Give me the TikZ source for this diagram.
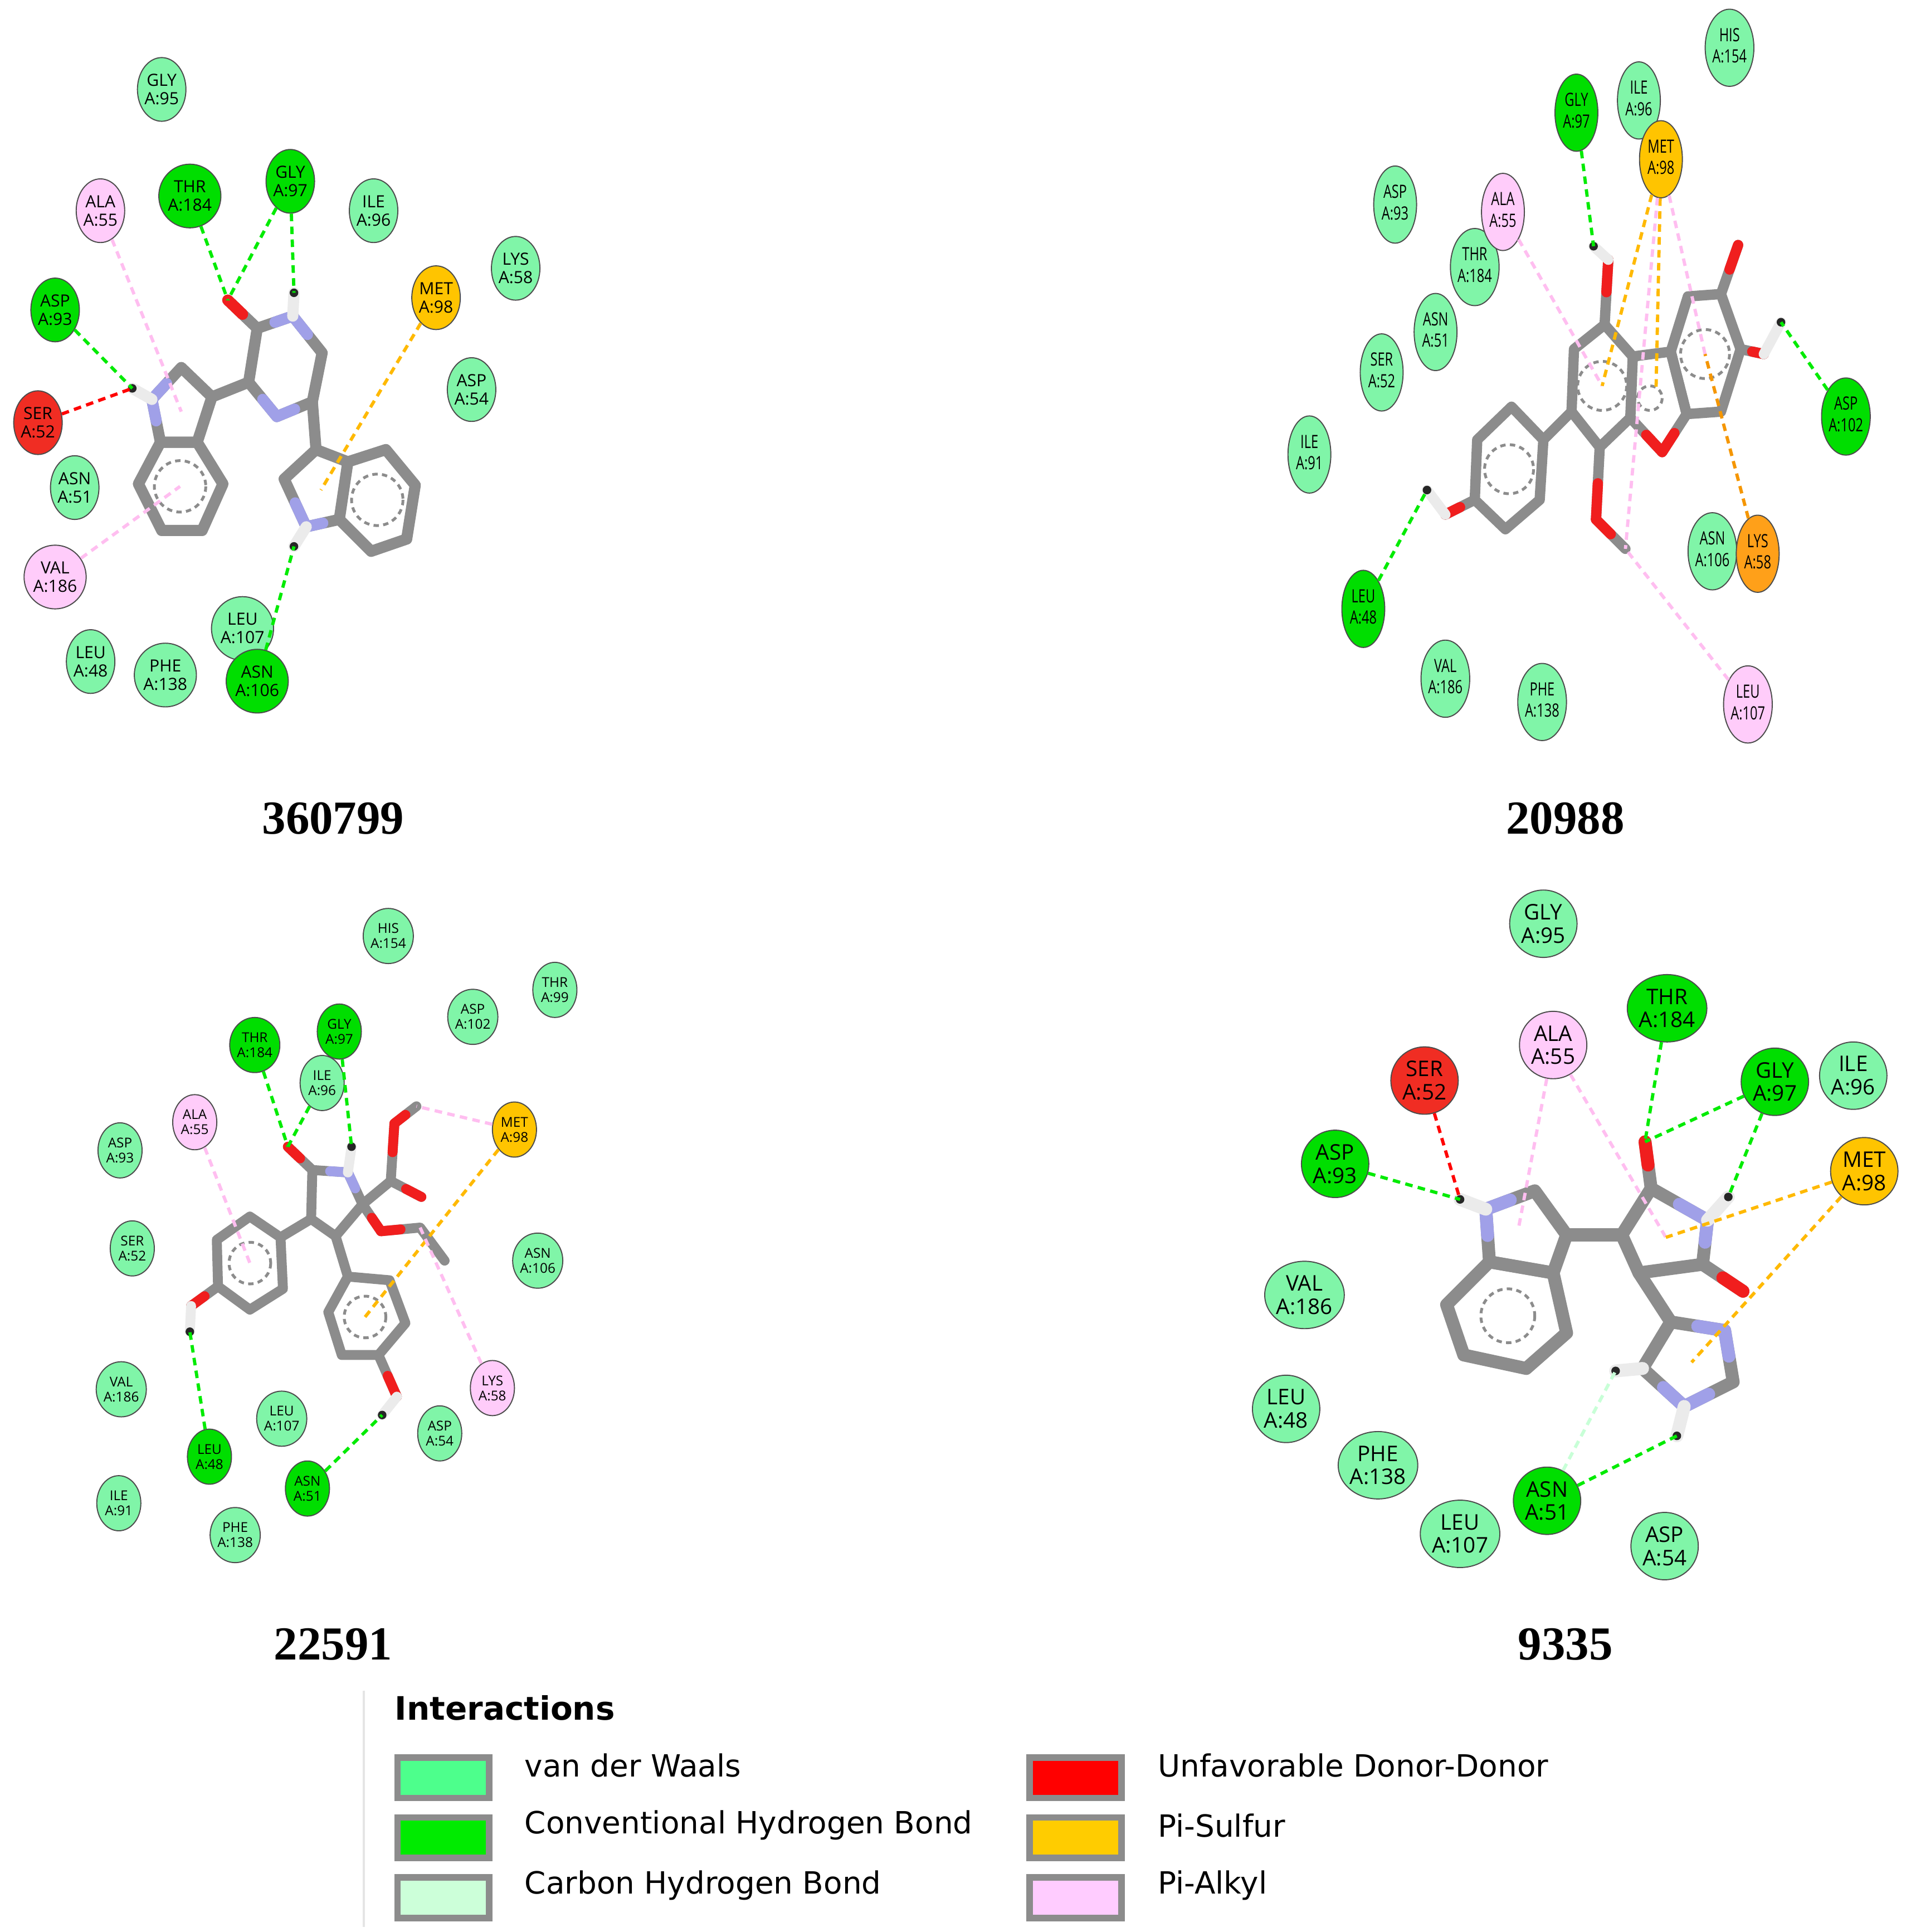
\documentclass[tikz,border=0pt]{standalone}
\usepackage{fontspec}
\setmainfont{Open Sans}
\newfontfamily\legfont{DejaVu Sans}
\newfontfamily\titfont{Liberation Serif}
\usetikzlibrary{shapes.geometric,calc}
\definecolor{vdw}{RGB}{128,245,168}
\definecolor{hbg}{RGB}{0,222,0}
\definecolor{unf}{RGB}{240,45,35}
\definecolor{psul}{RGB}{255,196,0}
\definecolor{lysor}{RGB}{255,160,25}
\definecolor{palk}{RGB}{255,204,250}
\definecolor{bondgray}{RGB}{140,140,140}
\definecolor{nblue}{RGB}{160,160,232}
\definecolor{ored}{RGB}{240,30,30}
\definecolor{hwhite}{RGB}{235,235,235}
\definecolor{lhb}{RGB}{0,235,0}
\definecolor{lpink}{RGB}{255,190,240}
\definecolor{lor}{RGB}{255,185,0}
\definecolor{lor2}{RGB}{245,150,0}
\definecolor{lchb}{RGB}{200,255,215}
\definecolor{lgvdw}{RGB}{77,255,140}
\definecolor{lgchb}{RGB}{204,255,217}
\definecolor{lgpalk}{RGB}{255,204,255}
\definecolor{lgpsul}{RGB}{255,204,0}
\newcommand\twol[2]{\begin{tabular}{@{}c@{}}#1\\#2\end{tabular}}
\newcommand\rr[6]{\node[#1,fill=#2] (#3) at (#4) {#5\\A:#6};}
\newcommand\rrn[6]{\node[#1,fill=#2] (#3) at (#4) {\scalebox{0.72}[1]{\twol{#5}{A:#6}}};}
\newcommand\het[3]{\draw[bond,draw=#3] (#1) -- ($(#1)!0.5!(#2)$);}
\newcommand\hyd[2]{\draw[bond,draw=hwhite] (#1) -- (#2); \fill[black!85] (#2) circle (3.5);}
\tikzset{
  x=0.02cm,y=-0.02cm,
  res/.style={ellipse,draw=black!70,line width=0.5pt,inner sep=0pt,align=center,text=black},
  r1/.style={res,minimum width=0.78cm,minimum height=1.04cm,font=\fontsize{7.8}{8.6}\selectfont},
  r2/.style={res,minimum width=0.70cm,minimum height=1.26cm,font=\fontsize{8.5}{10}\selectfont},
  r3/.style={res,minimum width=0.72cm,minimum height=0.90cm,font=\fontsize{6.3}{7}\selectfont},
  r4/.style={res,minimum width=1.10cm,minimum height=1.10cm,font=\fontsize{10}{10.8}\selectfont},
  bond/.style={draw=bondgray,line width=5pt,line cap=round,line join=round},
  arom/.style={draw=bondgray,line width=1.3pt,dash pattern=on 2.5pt off 2pt},
  inter/.style={line width=1.5pt,dash pattern=on 3.5pt off 2.5pt},
  hb/.style={inter,draw=lhb},
  pk/.style={inter,draw=lpink},
  ps/.style={inter,draw=lor},
  ps2/.style={inter,draw=lor2},
  ud/.style={inter,draw=red},
  ch/.style={inter,draw=lchb},
  tit/.style={font=\titfont\bfseries\fontsize{22}{24}\selectfont},
  lbox/.style={draw=gray!90,line width=3pt,minimum width=1.5cm,minimum height=0.66cm,inner sep=0pt},
  ltxt/.style={anchor=west,font=\legfont\fontsize{14.2}{16}\selectfont,inner sep=0pt}
}
\begin{document}
\begin{tikzpicture}
\useasboundingbox[fill=white] (0,0) rectangle (1560,1577);

% ================= Panel 1 =================
\begin{scope}[bond/.append style={line width=5.2pt}]
\coordinate (An1) at (124,326); \coordinate (Ah1) at (108,317);
\coordinate (Ac2) at (148,300); \coordinate (Ac3) at (173,324);
\coordinate (Ac3a) at (161,361); \coordinate (Ac7a) at (131,361);
\coordinate (Ab4) at (182,395); \coordinate (Ab5) at (165,433);
\coordinate (Ab6) at (132,433); \coordinate (Ab7) at (113,395);
\coordinate (Am1) at (203,312); \coordinate (Am2) at (210,268);
\coordinate (Amn1) at (239,258); \coordinate (Am3) at (263,288);
\coordinate (Am4) at (255,328); \coordinate (Amn2) at (226,340);
\coordinate (Ao) at (186,245); \coordinate (Amh) at (240,239);
\coordinate (Ar3) at (258,367); \coordinate (Ar2) at (232,391);
\coordinate (Arn) at (250,430); \coordinate (Ar7a) at (277,424);
\coordinate (Ar3a) at (284,377); \coordinate (Arh) at (240,446);
\coordinate (Arb4) at (315,367); \coordinate (Arb5) at (339,396);
\coordinate (Arb6) at (332,440); \coordinate (Arb7) at (303,450);
\coordinate (Apyr) at (148,336); \coordinate (Abz) at (147,397);
\coordinate (Arpyr) at (262,400); \coordinate (Arbz) at (308,408);
\draw[bond] (An1)--(Ac2)--(Ac3)--(Ac3a)--(Ac7a)--cycle;
\draw[bond] (Ac7a)--(Ac3a)--(Ab4)--(Ab5)--(Ab6)--(Ab7)--cycle;
\draw[bond] (Ac3)--(Am1);
\draw[bond] (Am1)--(Am2)--(Amn1)--(Am3)--(Am4)--(Amn2)--cycle;
\draw[bond] (Am2)--(Ao);
\draw[bond] (Am4)--(Ar3);
\draw[bond] (Ar3)--(Ar2)--(Arn)--(Ar7a)--(Ar3a)--cycle;
\draw[bond] (Ar3a)--(Arb4)--(Arb5)--(Arb6)--(Arb7)--(Ar7a);
\het{An1}{Ac2}{nblue}\het{An1}{Ac7a}{nblue}
\het{Amn1}{Am2}{nblue}\het{Amn1}{Am3}{nblue}
\het{Amn2}{Am4}{nblue}\het{Amn2}{Am1}{nblue}
\het{Arn}{Ar2}{nblue}\het{Arn}{Ar7a}{nblue}
\het{Ao}{Am2}{ored}
\hyd{An1}{Ah1}\hyd{Amn1}{Amh}\hyd{Arn}{Arh}
\draw[arom] (Abz) circle (21);
\draw[arom] (Arbz) circle (21);
\end{scope}
\rr{r1}{vdw}{A95}{132,73}{GLY}{95}
\rr{r1}{hbg}{A184}{155,160}{THR}{184}
\rr{r1}{hbg}{A97}{237,148}{GLY}{97}
\rr{r1}{vdw}{A96}{305,172}{ILE}{96}
\rr{r1}{palk}{A55}{82,172}{ALA}{55}
\rr{r1}{vdw}{A58}{421,219}{LYS}{58}
\rr{r1}{psul}{A98}{356,243}{MET}{98}
\rr{r1}{hbg}{A93}{45,253}{ASP}{93}
\rr{r1}{unf}{A52}{31,345}{SER}{52}
\rr{r1}{vdw}{A54}{385,318}{ASP}{54}
\rr{r1}{vdw}{A51}{61,398}{ASN}{51}
\rr{r1}{palk}{A186}{45,471}{VAL}{186}
\rr{r1}{vdw}{A48}{74,540}{LEU}{48}
\rr{r1}{vdw}{A138}{135,551}{PHE}{138}
\rr{r1}{vdw}{A107}{198,513}{LEU}{107}
\rr{r1}{hbg}{A106}{210,556}{ASN}{106}
\draw[hb] (A184) -- (Ao);
\draw[hb] (A97) -- (Ao);
\draw[hb] (A97) -- (Amh);
\draw[hb] (A93) -- (Ah1);
\draw[ud] (A52) -- (Ah1);
\draw[pk] (A55) -- (Apyr);
\draw[pk] (A186) -- (Abz);
\draw[ps] (A98) -- (Arpyr);
\draw[hb] (A106) -- (Arh);
\node[tit] (T1) at (272,668) {360799};

% ================= Panel 2 =================
\begin{scope}[bond/.append style={line width=4.8pt}]
\coordinate (Ba1) at (1310,265); \coordinate (Ba2) at (1333,291);
\coordinate (Ba3) at (1331,341); \coordinate (Ba4) at (1306,365);
\coordinate (Ba5) at (1283,336); \coordinate (Ba6) at (1285,285);
\coordinate (Bo1) at (1313,212); \coordinate (Bh1) at (1301,201);
\coordinate (Bf1) at (1364,287); \coordinate (Bf2) at (1377,338);
\coordinate (Bfo) at (1357,369);
\coordinate (Bc3) at (1405,336); \coordinate (Bc4) at (1421,285);
\coordinate (Bc5) at (1405,240); \coordinate (Bc6) at (1378,242);
\coordinate (Bco) at (1419,200); \coordinate (Bo4) at (1440,289); \coordinate (Bh4) at (1454,263);
\coordinate (Bp1) at (1260,359); \coordinate (Bp2) at (1257,408);
\coordinate (Bp3) at (1229,432); \coordinate (Bp4) at (1204,408);
\coordinate (Bp5) at (1206,359); \coordinate (Bp6) at (1234,332);
\coordinate (Bpo) at (1180,420); \coordinate (Bph) at (1165,400);
\coordinate (Bmo) at (1303,424); \coordinate (Bmc) at (1327,448);
\coordinate (BcA) at (1308,315); \coordinate (BcF) at (1352,318);
\coordinate (BcC) at (1392,289); \coordinate (BcP) at (1232,383);
\draw[bond] (Ba1)--(Ba2)--(Ba3)--(Ba4)--(Ba5)--(Ba6)--cycle;
\draw[bond] (Ba2)--(Bf1)--(Bf2)--(Bfo)--(Ba3);
\draw[bond] (Bf1)--(Bf2)--(Bc3)--(Bc4)--(Bc5)--(Bc6)--cycle;
\draw[bond] (Ba1)--(Bo1); \draw[bond] (Bc5)--(Bco); \draw[bond] (Bc4)--(Bo4);
\draw[bond] (Ba5)--(Bp1);
\draw[bond] (Bp1)--(Bp2)--(Bp3)--(Bp4)--(Bp5)--(Bp6)--cycle;
\draw[bond] (Bp4)--(Bpo);
\draw[bond] (Ba4)--(Bmo)--(Bmc);
\het{Bo1}{Ba1}{ored}\het{Bco}{Bc5}{ored}\het{Bo4}{Bc4}{ored}\het{Bpo}{Bp4}{ored}
\het{Bfo}{Bf2}{ored}\het{Bfo}{Ba3}{ored}\het{Bmo}{Ba4}{ored}\het{Bmo}{Bmc}{ored}
\hyd{Bo1}{Bh1}\hyd{Bo4}{Bh4}\hyd{Bpo}{Bph}
\draw[arom] (BcA) circle (20);
\draw[arom] (BcC) circle (20);
\draw[arom] (BcP) circle (20);
\draw[arom] (1347,325) circle (10);
\end{scope}
\rrn{r2}{vdw}{B154}{1412,39}{HIS}{154}
\rrn{r2}{vdw}{B96}{1338,82}{ILE}{96}
\rrn{r2}{hbg}{B97}{1287,92}{GLY}{97}
\rrn{r2}{psul}{B98}{1356,130}{MET}{98}
\rrn{r2}{vdw}{B93}{1139,167}{ASP}{93}
\rrn{r2}{vdw}{B184}{1204,218}{THR}{184}
\rrn{r2}{palk}{B55}{1227,173}{ALA}{55}
\rrn{r2}{vdw}{B51}{1172,271}{ASN}{51}
\rrn{r2}{vdw}{B52}{1128,304}{SER}{52}
\rrn{r2}{vdw}{B91}{1069,371}{ILE}{91}
\rrn{r2}{hbg}{B102}{1507,340}{ASP}{102}
\rrn{r2}{vdw}{B106}{1398,450}{ASN}{106}
\rrn{r2}{lysor}{B58}{1435,452}{LYS}{58}
\rrn{r2}{hbg}{B48}{1113,497}{LEU}{48}
\rrn{r2}{vdw}{B186}{1180,554}{VAL}{186}
\rrn{r2}{vdw}{B138}{1259,573}{PHE}{138}
\rrn{r2}{palk}{B107}{1427,575}{LEU}{107}
\draw[hb] (B97) -- (Bh1);
\draw[pk] (B55) -- (BcA);
\draw[ps] (B98) -- (BcA);
\draw[ps] (B98) -- (BcF);
\draw[pk] (B98) -- (Bmc);
\draw[pk] (B98) -- (BcC);
\draw[ps2] (B58) -- (BcC);
\draw[pk] (B107) -- (Bmc);
\draw[hb] (B102) -- (Bh4);
\draw[hb] (B48) -- (Bph);
\node[tit] (T2) at (1278,668) {20988};

% ================= Panel 3 =================
\begin{scope}[shift={(0,7)}]
\begin{scope}[bond/.append style={line width=4.6pt}]
\coordinate (Co) at (235,929); \coordinate (Cco) at (255,948);
\coordinate (Cn) at (284,950); \coordinate (Cnh) at (287,929);
\coordinate (Cc5) at (296,976); \coordinate (Cc4) at (274,1002);
\coordinate (Cc3) at (254,988);
\coordinate (Cl1) at (229,1003); \coordinate (Cl2) at (231,1045);
\coordinate (Cl3) at (204,1062); \coordinate (Cl4) at (178,1043);
\coordinate (Cl5) at (177,1005); \coordinate (Cl6) at (204,986);
\coordinate (Clo) at (156,1059); \coordinate (Clh) at (155,1080);
\coordinate (Cq1) at (284,1035); \coordinate (Cq2) at (318,1038);
\coordinate (Cq3) at (331,1073); \coordinate (Cq4) at (309,1099);
\coordinate (Cq5) at (279,1099); \coordinate (Cq6) at (268,1064);
\coordinate (Cqo) at (324,1133); \coordinate (Cqh) at (312,1148);
\coordinate (Cec) at (319,957); \coordinate (Ceo1) at (344,970);
\coordinate (Ceo2) at (322,910); \coordinate (Ceme) at (340,896);
\coordinate (Cxo) at (311,998); \coordinate (Cxc1) at (343,995); \coordinate (Cxc2) at (363,1022);
\coordinate (CcL) at (204,1024); \coordinate (CcR) at (298,1068);
\draw[bond] (Cco)--(Cn)--(Cc5)--(Cc4)--(Cc3)--cycle;
\draw[bond] (Cco)--(Co);
\draw[bond] (Cc3)--(Cl1);
\draw[bond] (Cl1)--(Cl2)--(Cl3)--(Cl4)--(Cl5)--(Cl6)--cycle;
\draw[bond] (Cl4)--(Clo);
\draw[bond] (Cc4)--(Cq1);
\draw[bond] (Cq1)--(Cq2)--(Cq3)--(Cq4)--(Cq5)--(Cq6)--cycle;
\draw[bond] (Cq4)--(Cqo);
\draw[bond] (Cc5)--(Cec)--(Ceo1); \draw[bond] (Cec)--(Ceo2)--(Ceme);
\draw[bond] (Cc5)--(Cxo)--(Cxc1)--(Cxc2);
\het{Cn}{Cco}{nblue}\het{Cn}{Cc5}{nblue}
\het{Co}{Cco}{ored}\het{Clo}{Cl4}{ored}\het{Cqo}{Cq4}{ored}
\het{Ceo1}{Cec}{ored}\het{Ceo2}{Cec}{ored}\het{Ceo2}{Ceme}{ored}
\het{Cxo}{Cc5}{ored}\het{Cxo}{Cxc1}{ored}
\hyd{Cn}{Cnh}\hyd{Clo}{Clh}\hyd{Cqo}{Cqh}
\draw[arom] (CcL) circle (17);
\draw[arom] (CcR) circle (17);
\end{scope}
\rr{r3}{vdw}{C154}{317,757}{HIS}{154}
\rr{r3}{vdw}{C99}{453,801}{THR}{99}
\rr{r3}{vdw}{C102}{386,823}{ASP}{102}
\rr{r3}{hbg}{C97}{277,835}{GLY}{97}
\rr{r3}{hbg}{C184}{208,846}{THR}{184}
\rr{r3}{vdw}{C96}{263,877}{ILE}{96}
\rr{r3}{palk}{C55}{159,909}{ALA}{55}
\rr{r3}{psul}{C98}{420,915}{MET}{98}
\rr{r3}{vdw}{C93}{98,932}{ASP}{93}
\rr{r3}{vdw}{C52}{108,1012}{SER}{52}
\rr{r3}{vdw}{C106}{439,1022}{ASN}{106}
\rr{r3}{vdw}{C186}{99,1127}{VAL}{186}
\rr{r3}{palk}{C58}{402,1126}{LYS}{58}
\rr{r3}{vdw}{C107}{230,1151}{LEU}{107}
\rr{r3}{vdw}{C54}{359,1163}{ASP}{54}
\rr{r3}{hbg}{C48}{171,1182}{LEU}{48}
\rr{r3}{hbg}{C51}{251,1208}{ASN}{51}
\rr{r3}{vdw}{C91}{97,1220}{ILE}{91}
\rr{r3}{vdw}{C138}{192,1246}{PHE}{138}
\draw[hb] (C184) -- (Co);
\draw[hb] (C96) -- (Co);
\draw[hb] (C97) -- (Cnh);
\draw[pk] (C55) -- (CcL);
\draw[pk] (C98) -- (Ceme);
\draw[ps] (C98) -- (CcR);
\draw[pk] (C58) -- (Cxc1);
\draw[hb] (C48) -- (Clh);
\draw[hb] (C51) -- (Cqh);
\end{scope}
\node[tit] (T3) at (272,1342) {22591};

% ================= Panel 4 =================
\begin{scope}[bond/.append style={line width=6pt}]
\coordinate (Dn) at (1213,987); \coordinate (Dh) at (1192,979);
\coordinate (Dc2) at (1253,972); \coordinate (Dc3) at (1279,1008);
\coordinate (Dc3a) at (1268,1039); \coordinate (Dc7a) at (1216,1030);
\coordinate (Db4) at (1279,1088); \coordinate (Db5) at (1246,1117);
\coordinate (Db6) at (1195,1106); \coordinate (Db7) at (1181,1065);
\coordinate (Dm1) at (1324,1008); \coordinate (Dm2) at (1348,970);
\coordinate (Do1) at (1343,932); \coordinate (Dmn) at (1394,996);
\coordinate (Dmh) at (1411,977); \coordinate (Dm3) at (1390,1032);
\coordinate (Do2) at (1423,1054); \coordinate (Dm4) at (1338,1039);
\coordinate (Di1) at (1364,1079); \coordinate (Din1) at (1408,1086);
\coordinate (Di2) at (1415,1128); \coordinate (Din2) at (1375,1148);
\coordinate (Di3) at (1341,1117); \coordinate (Dih3) at (1319,1119);
\coordinate (Dihn) at (1369,1172);
\coordinate (Dpyr) at (1240,1001); \coordinate (Dbz) at (1231,1074);
\coordinate (Dmal) at (1360,1010); \coordinate (Dimi) at (1381,1112);
\draw[bond] (Dn)--(Dc2)--(Dc3)--(Dc3a)--(Dc7a)--cycle;
\draw[bond] (Dc7a)--(Dc3a)--(Db4)--(Db5)--(Db6)--(Db7)--cycle;
\draw[bond] (Dc3)--(Dm1);
\draw[bond] (Dm1)--(Dm2)--(Dmn)--(Dm3)--(Dm4)--cycle;
\draw[bond] (Dm2)--(Do1); \draw[bond] (Dm3)--(Do2);
\draw[bond] (Dm4)--(Di1);
\draw[bond] (Di1)--(Din1)--(Di2)--(Din2)--(Di3)--cycle;
\het{Dn}{Dc2}{nblue}\het{Dn}{Dc7a}{nblue}
\het{Dmn}{Dm2}{nblue}\het{Dmn}{Dm3}{nblue}
\het{Din1}{Di1}{nblue}\het{Din1}{Di2}{nblue}
\het{Din2}{Di2}{nblue}\het{Din2}{Di3}{nblue}
\het{Do1}{Dm2}{ored}\het{Do2}{Dm3}{ored}
\hyd{Dn}{Dh}\hyd{Dmn}{Dmh}\hyd{Di3}{Dih3}\hyd{Din2}{Dihn}
\draw[arom] (Dbz) circle (22);
\end{scope}
\rr{r4}{vdw}{D95}{1260,754}{GLY}{95}
\rr{r4}{hbg}{D184}{1361,823}{THR}{184}
\rr{r4}{palk}{D55}{1268,853}{ALA}{55}
\rr{r4}{unf}{D52}{1163,882}{SER}{52}
\rr{r4}{hbg}{D97}{1449,883}{GLY}{97}
\rr{r4}{vdw}{D96}{1513,878}{ILE}{96}
\rr{r4}{hbg}{D93}{1090,950}{ASP}{93}
\rr{r4}{psul}{D98}{1522,956}{MET}{98}
\rr{r4}{vdw}{D186}{1065,1057}{VAL}{186}
\rr{r4}{vdw}{D48}{1050,1150}{LEU}{48}
\rr{r4}{vdw}{D138}{1125,1196}{PHE}{138}
\rr{r4}{hbg}{D51}{1263,1225}{ASN}{51}
\rr{r4}{vdw}{D107}{1192,1252}{LEU}{107}
\rr{r4}{vdw}{D54}{1359,1262}{ASP}{54}
\draw[ud] (D52) -- (Dh);
\draw[hb] (D93) -- (Dh);
\draw[pk] (D55) -- (Dpyr);
\draw[pk] (D55) -- (Dmal);
\draw[hb] (D184) -- (Do1);
\draw[hb] (D97) -- (Do1);
\draw[hb] (D97) -- (Dmh);
\draw[ps] (D98) -- (Dmal);
\draw[ps] (D98) -- (Dimi);
\draw[ch] (D51) -- (Dih3);
\draw[hb] (D51) -- (Dihn);
\node[tit] (T4) at (1278,1342) {9335};

% ================= Legend =================
\begin{scope}[shift={(0,8)}]
\coordinate (LgT) at (297,1372); \coordinate (LgB) at (297,1565);
\draw[black!10,line width=1pt] (LgT) -- (LgB);
\node[anchor=west,inner sep=0pt,font=\legfont\bfseries\fontsize{15}{17}\selectfont] (Lh) at (322,1386) {Interactions};
\node[lbox,fill=lgvdw] (L1) at (362,1443) {};
\node[ltxt] (L1t) at (428,1433) {van der Waals};
\node[lbox,fill=lhb] (L2) at (362,1492) {};
\node[ltxt] (L2t) at (428,1482) {Conventional Hydrogen Bond};
\node[lbox,fill=lgchb] (L3) at (362,1541) {};
\node[ltxt] (L3t) at (428,1531) {Carbon Hydrogen Bond};
\node[lbox,fill=red] (L4) at (878,1443) {};
\node[ltxt] (L4t) at (945,1433) {Unfavorable Donor-Donor};
\node[lbox,fill=lgpsul] (L5) at (878,1492) {};
\node[ltxt] (L5t) at (945,1482) {Pi-Sulfur};
\node[lbox,fill=lgpalk] (L6) at (878,1541) {};
\node[ltxt] (L6t) at (945,1531) {Pi-Alkyl};
\end{scope}
\end{tikzpicture}
\end{document}
